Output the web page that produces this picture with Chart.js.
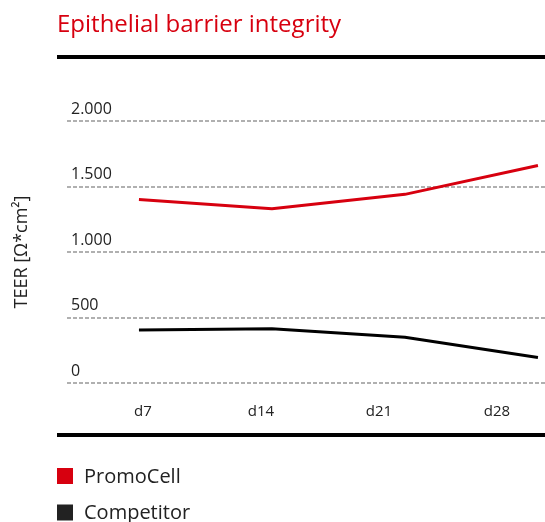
<!DOCTYPE html>
<html>
<head>
<meta charset="utf-8">
<script src="https://cdn.jsdelivr.net/npm/chart.js@4"></script>
<style>
  html, body { margin: 0; padding: 0; background: #fff; }
  #wrap { width: 545px; height: 522px; }
</style>
</head>
<body>
<div id="wrap"><canvas id="teerChart"></canvas></div>
<script>
// === Data ===
const days = ["d7", "d14", "d21", "d28"];
const promoCell = [1400, 1330, 1440, 1660];
const competitor = [405, 415, 350, 195];
const yTicks = [0, 500, 1000, 1500, 2000];

const FONT = "'Open Sans', sans-serif";
const RED = "#d7000f";

// thousands with a dot, like the original
const fmt = v => String(v).replace(/\B(?=(\d{3})+(?!\d))/g, ".");

// title, black rules and legend
const decor = {
  id: "decor",
  afterDraw(chart) {
    const ctx = chart.ctx;
    ctx.save();
    ctx.fillStyle = RED;
    ctx.font = "500 24px " + FONT;
    ctx.textBaseline = "alphabetic";
    ctx.fillText("Epithelial barrier integrity", 57, 32);

    ctx.fillStyle = "#000";
    ctx.fillRect(57, 55, 488, 4);
    ctx.fillRect(57, 433, 488, 4);

    ctx.font = "20px " + FONT;
    ctx.textBaseline = "middle";
    chart.data.datasets.forEach((ds, i) => {
      const y = 476 + i * 36.5;
      ctx.fillStyle = ds.legendColor;
      ctx.fillRect(57, y - 8, 16, 16);
      ctx.fillStyle = "#222";
      ctx.fillText(ds.label, 84, y + 1);
    });
    ctx.restore();
  }
};

new Chart(document.getElementById("teerChart"), {
  type: "line",
  data: {
    datasets: [
      {
        label: "PromoCell",
        data: promoCell.map((v, i) => ({ x: i, y: v })),
        borderColor: RED,
        legendColor: RED,
        borderWidth: 3,
        pointRadius: 0,
        tension: 0
      },
      {
        label: "Competitor",
        data: competitor.map((v, i) => ({ x: i, y: v })),
        borderColor: "#000",
        legendColor: "#222",
        borderWidth: 3,
        pointRadius: 0,
        tension: 0
      }
    ]
  },
  options: {
    responsive: true,
    maintainAspectRatio: false,
    animation: false,
    layout: { padding: { top: 121, right: 0, bottom: 79, left: 0 } },
    plugins: {
      legend: { display: false },
      tooltip: { enabled: false }
    },
    scales: {
      x: {
        type: "linear",
        display: false,
        min: -0.541,
        max: 3.053
      },
      xl: {
        type: "linear",
        position: "bottom",
        min: -0.644,
        max: 3.407,
        afterBuildTicks: s => { s.ticks = days.map((d, i) => ({ value: i })); },
        afterFit: s => { s.height = 60; },
        grid: { display: false, drawTicks: false },
        border: { display: false },
        ticks: {
          padding: 20,
          color: "#222",
          font: { family: FONT, size: 15 },
          callback: v => days[v]
        }
      },
      y: {
        min: 0,
        max: 2000,
        afterBuildTicks: s => { s.ticks = yTicks.map(v => ({ value: v })); },
        afterFit: s => { s.width = 67; },
        grid: { color: "#b0b0b0", lineWidth: 2, drawTicks: false },
        border: { display: false, dash: [4, 2] },
        ticks: {
          mirror: true,
          padding: 4,
          labelOffset: -12,
          color: "#222",
          font: { family: FONT, size: 16 },
          callback: v => fmt(v)
        },
        title: {
          display: true,
          text: "TEER [Ω*cm²]",
          color: "#222",
          font: { family: FONT, size: 18 },
          padding: { top: 11 }
        }
      }
    }
  },
  plugins: [decor]
});
</script>
</body>
</html>
